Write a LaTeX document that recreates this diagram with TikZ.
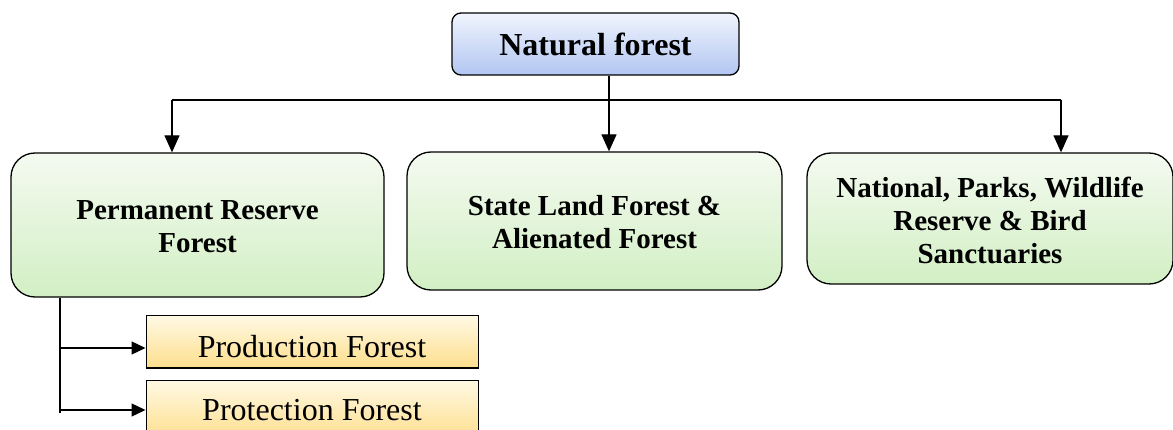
\documentclass[tikz,border=0pt]{standalone}
\usepackage{fontspec}
\setmainfont{Liberation Serif}
\usetikzlibrary{arrows.meta}
\definecolor{bluetop}{RGB}{240,244,253}
\definecolor{bluebot}{RGB}{178,198,242}
\definecolor{greentop}{RGB}{244,250,240}
\definecolor{greenbot}{RGB}{210,239,196}
\definecolor{yeltop}{RGB}{255,249,228}
\definecolor{yelbot}{RGB}{253,222,140}
\newcommand{\lowr}[2]{\raisebox{-#1}[\height][\depth]{#2}}
\begin{document}
\begin{tikzpicture}[x=1pt,y=-1pt,
  line width=1.3pt,
  topbox/.style={draw=black, rounded corners=9pt, top color=bluetop, bottom color=bluebot,
     minimum width=287pt, minimum height=62pt, inner sep=0pt,
     font=\fontsize{32}{36}\selectfont\bfseries},
  greenbox/.style={draw=black, rounded corners=24pt, top color=greentop, bottom color=greenbot,
     inner sep=0pt, align=center,
     font=\fontsize{29}{33}\selectfont\bfseries},
  yelbox/.style={draw=black, line width=1pt, top color=yeltop, bottom color=yelbot,
     minimum width=332pt, inner sep=0pt,
     font=\fontsize{32}{36}\selectfont},
  arr/.style={-{Triangle[length=17pt,width=15pt]}},
  sarr/.style={-{Triangle[length=14pt,width=13pt]}}
]
\useasboundingbox (0,0) rectangle (1173,430);
\node[topbox] (nat) at (595.5,44) {Natural forest};
\node[greenbox, minimum width=373pt, minimum height=144pt] (prf) at (197.5,225) {\lowr{2pt}{Permanent Reserve}\\\lowr{2pt}{Forest}};
\node[greenbox, minimum width=375pt, minimum height=138pt] (slf) at (594.5,221) {\lowr{1pt}{State Land Forest \&}\\\lowr{1pt}{Alienated Forest}};
\node[greenbox, minimum width=366pt, minimum height=131pt] (npw) at (990,218.5) {\lowr{2pt}{National, Parks, Wildlife}\\\lowr{2pt}{Reserve \& Bird}\\\lowr{2pt}{Sanctuaries}};
\node[yelbox, minimum height=52pt] (prod) at (312,342) {\lowr{5pt}{Production Forest}};
\node[yelbox, minimum height=60pt] (prot) at (312,410) {Protection Forest};
\coordinate (hl) at (172,100);
\coordinate (hm) at (609,100);
\coordinate (hr) at (1061,100);
\coordinate (vb) at (60,413);
\coordinate (pa) at ([yshift=-6pt]prod.west);
\draw (hl) -- (hr);
\draw (nat.south -| hm) -- (hm);
\draw[arr] (hl) -- (hl |- prf.north);
\draw[arr] (hm) -- (hm |- slf.north);
\draw[arr] (hr) -- (hr |- npw.north);
\draw (prf.south -| vb) -- (vb);
\draw[sarr] (vb |- pa) -- (pa);
\draw[sarr] (vb |- prot.west) -- (prot.west);
\end{tikzpicture}
\end{document}
